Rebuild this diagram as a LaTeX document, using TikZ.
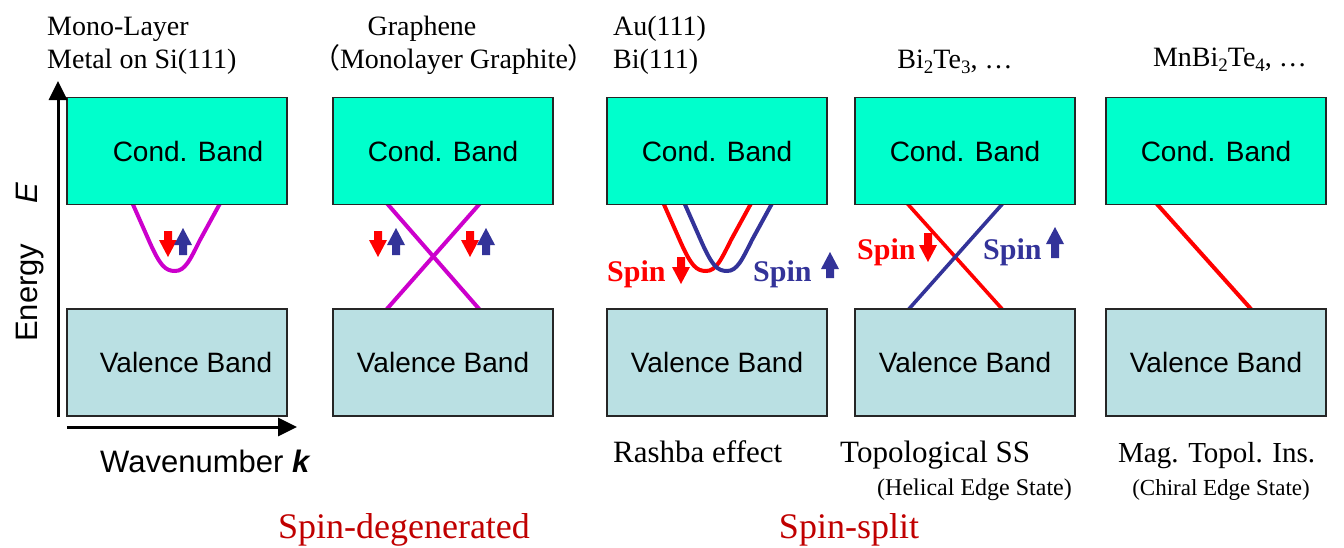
\documentclass[tikz,border=0pt]{standalone}
\usepackage{fontspec}
\setmainfont{Liberation Serif}
\setsansfont{Liberation Sans}
\newfontfamily\cjk{Noto Sans CJK SC}
\usetikzlibrary{arrows.meta}
\definecolor{condc}{RGB}{0,255,204}
\definecolor{valc}{RGB}{186,224,227}
\definecolor{magc}{RGB}{204,0,204}
\definecolor{sred}{RGB}{255,0,0}
\definecolor{sblue}{RGB}{51,51,153}
\definecolor{dred}{RGB}{192,0,0}
\newcommand{\sbs}[1]{\raisebox{-5pt}{\fontsize{19}{19}\selectfont #1}}
\begin{document}
\begin{tikzpicture}[x=1pt,y=-1pt,
  band/.style={draw=black!85, line width=1.3pt, minimum width=220pt, minimum height=107pt, inner sep=0pt, font=\sffamily\fontsize{28}{30}\selectfont},
  cond/.style={band, fill=condc},
  val/.style={band, fill=valc},
  ttl/.style={font=\fontsize{28}{34}\selectfont, inner sep=0pt},
  btm/.style={font=\fontsize{31}{34}\selectfont, inner sep=0pt},
  sub/.style={font=\fontsize{24}{26}\selectfont, inner sep=0pt},
  grp/.style={font=\fontsize{36}{40}\selectfont, inner sep=0pt, text=dred},
  spinlab/.style={font=\bfseries\fontsize{30}{34}\selectfont, inner sep=0pt},
  axlab/.style={font=\sffamily\fontsize{31}{34}\selectfont, inner sep=0pt},
  axis/.style={line width=3pt, -{Triangle[length=19pt,width=18pt]}},
  bandline/.style={line width=4pt},
  pics/spdn/.style={code={\fill (-4,0) -- (4,0) -- (4,#1-17) -- (9,#1-17) -- (0,#1) -- (-9,#1-17) -- (-4,#1-17) -- cycle;}},
  pics/spup/.style={code={\fill (-4,0) -- (4,0) -- (4,-#1+17) -- (9,-#1+17) -- (0,-#1) -- (-9,-#1+17) -- (-4,-#1+17) -- cycle;}},
  pics/para/.style={code={\draw[bandline] (0,-4) -- (19,39) .. controls (29,61) and (34,67) .. (44,67) .. controls (54,67) and (59,56) .. (69,36) -- (92,-6);}}
]
\useasboundingbox (0,0) rectangle (1344,547);

% ---- band curves (drawn first, boxes cover their ends)
\pic[magc] at (131,204) {para};
\draw[bandline, magc] (384,200) -- (480,310);
\draw[bandline, magc] (483,200) -- (386,310);
\pic[sred] at (662,204) {para};
\pic[sblue] at (683,204) {para};
\draw[bandline, line width=3.6pt, sred] (905,201) -- (1003,310);
\draw[bandline, line width=3.6pt, sblue] (1005,201) -- (908,310);
\draw[bandline, sred] (1156,203) -- (1251,309);

% ---- bands
\node[cond] (c1) at (177,151) {\hspace*{22pt}Cond. Band};
\node[val]  (v1) at (177,362.5) {\hspace*{18pt}Valence Band};
\node[cond] (c2) at (443,151) {\raisebox{-4pt}{Cond. Band}};
\node[val]  (v2) at (443,362.5) {\raisebox{-3pt}{Valence Band}};
\node[cond] (c3) at (717,151) {\raisebox{-4pt}{Cond. Band}};
\node[val]  (v3) at (717,362.5) {\raisebox{-3pt}{Valence Band}};
\node[cond] (c4) at (965,151) {\raisebox{-4pt}{Cond. Band}};
\node[val]  (v4) at (965,362.5) {\raisebox{-3pt}{Valence Band}};
\node[cond] (c5) at (1216,151) {\raisebox{-4pt}{Cond. Band}};
\node[val]  (v5) at (1216,362.5) {\raisebox{-3pt}{Valence Band}};

% ---- spin arrows
\pic[sred]  at (168,231) {spdn=26};
\pic[sblue] at (183,255) {spup=27};
\pic[sred]  at (378,231) {spdn=26};
\pic[sblue] at (396,255) {spup=27};
\pic[sred]  at (470,231) {spdn=26};
\pic[sblue] at (486,255) {spup=27};
\pic[sred]  at (681,257) {spdn=27};
\pic[sblue] at (830,278) {spup=26};
\pic[sred]  at (928,233) {spdn=29};
\pic[sblue] at (1055,258) {spup=31};

% ---- spin labels
\node[spinlab, text=sred, anchor=base west]  (s3r) at (607,281) {Spin};
\node[spinlab, text=sblue, anchor=base west] (s3b) at (753,281) {Spin};
\node[spinlab, text=sred, anchor=base west]  (s4r) at (857,259) {Spin};
\node[spinlab, text=sblue, anchor=base west] (s4b) at (983,259) {Spin};

% ---- axes
\coordinate (ybot) at (58,417);
\coordinate (ytop) at (58,81);
\coordinate (xl) at (67,427);
\coordinate (xr) at (297,427);
\draw[axis] (ybot) -- (ytop);
\draw[axis] (xl) -- (xr);
\node[axlab, rotate=90, anchor=base west] (elab) at (37,342) {Energy\hspace{40pt}\textit{E}};
\node[axlab, anchor=base west] (klab) at (100,472) {Wavenumber \textbf{\textit{k}}};

% ---- titles
\node[ttl, anchor=base west] (t1a) at (47,35) {Mono-Layer};
\node[ttl, anchor=base west] (t1b) at (47,68) {Metal on Si(111)};
\node[ttl, anchor=base] (t2a) at (422,35) {Graphene};
\node[ttl, anchor=base] (t2b) at (454,68) {{\cjk （}Monolayer Graphite{\cjk ）}};
\node[ttl, anchor=base west] (t3a) at (613,35) {Au(111)};
\node[ttl, anchor=base west] (t3b) at (613,68) {Bi(111)};
\node[ttl, anchor=base] (t4) at (955,68) {Bi\sbs{2}Te\sbs{3}, …};
\node[ttl, anchor=base] (t5) at (1230,66) {MnBi\sbs{2}Te\sbs{4}, …};

% ---- bottom labels
\node[btm, anchor=base west] (b3) at (613,462) {Rashba effect};
\node[btm, anchor=base west] (b4) at (840,462) {Topological SS};
\node[sub, anchor=base east] (b4s) at (1072,495) {(Helical Edge State)};
\node[btm, anchor=base west, font=\fontsize{29}{34}\selectfont] (b5) at (1118,462) {Mag. Topol. Ins.};
\node[sub, anchor=base east, font=\fontsize{23}{26}\selectfont] (b5s) at (1310,495) {(Chiral Edge State)};
\node[grp, anchor=base] (g1) at (404,538) {Spin-degenerated};
\node[grp, anchor=base] (g2) at (849,538) {Spin-split};
\end{tikzpicture}
\end{document}
